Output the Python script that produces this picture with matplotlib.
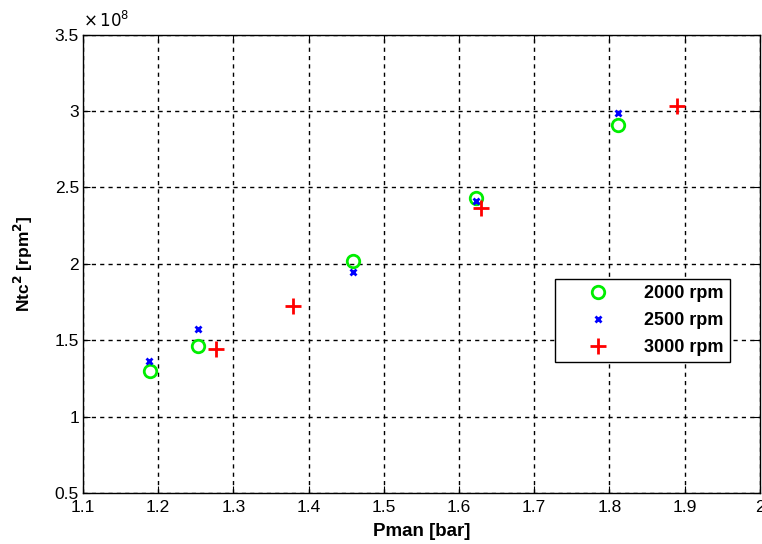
import matplotlib.pyplot as plt
import numpy as np

plt.rcParams['font.family'] = ['Liberation Sans', 'DejaVu Sans']

# boost pressure vs turbo speed squared, one series per engine speed
p_2000 = [1.189, 1.253, 1.459, 1.623, 1.811]
n2_2000 = [1.30, 1.463, 2.02, 2.432, 2.91]
p_2500 = [1.188, 1.253, 1.459, 1.623, 1.811]
n2_2500 = [1.364, 1.574, 1.947, 2.412, 2.989]
p_3000 = [1.277, 1.379, 1.629, 1.890]
n2_3000 = [1.443, 1.725, 2.366, 3.034]

xticks = [1.1, 1.2, 1.3, 1.4, 1.5, 1.6, 1.7, 1.8, 1.9, 2.0]
yticks = [0.5, 1.0, 1.5, 2.0, 2.5, 3.0, 3.5]
xtick_labels = ['1.1', '1.2', '1.3', '1.4', '1.5', '1.6', '1.7', '1.8', '1.9', '2']
ytick_labels = ['0.5', '1', '1.5', '2', '2.5', '3', '3.5']

fig = plt.figure(figsize=(7.62, 5.44), dpi=100)
ax = fig.add_axes([0.109, 0.094, 0.888, 0.842])

ax.plot(p_2000, n2_2000, 'o', ms=9, mfc='none', mec='#00ee00', mew=2, label='2000 rpm')
ax.plot(p_2500, n2_2500, 'x', ms=5, mec='#0000ff', mew=2, label='2500 rpm')
ax.plot(p_3000, n2_3000, '+', ms=11, mec='#ff0000', mew=2, label='3000 rpm')

ax.set_xlim(1.1, 2.0)
ax.set_ylim(0.5, 3.5)
ax.set_xticks(xticks)
ax.set_xticklabels(xtick_labels)
ax.set_yticks(yticks)
ax.set_yticklabels(ytick_labels)
ax.tick_params(direction='in', top=True, right=True, labelsize=12.5, length=5)
ax.tick_params(axis='x', pad=5)
ax.tick_params(axis='y', pad=3)
ax.grid(True, color='black', linestyle=(0, (3, 3)), linewidth=1)
for s in ax.spines.values():
    s.set_linewidth(1)

ax.text(0.0, 1.008, r'$\times\,10^{8}$', transform=ax.transAxes, fontsize=12,
        ha='left', va='bottom', fontfamily='DejaVu Sans')

ax.set_xlabel('Pman [bar]', fontsize=13.5, fontweight='bold', labelpad=6)
ax.set_ylabel(r'Ntc$^\mathbf{2}$ [rpm$^\mathbf{2}$]', fontsize=12.5, fontweight='bold', labelpad=14)

leg = ax.legend(loc='upper left', bbox_to_anchor=(0.697, 0.467), borderaxespad=0,
                fancybox=False, framealpha=1, edgecolor='black',
                prop={'weight': 'bold', 'size': 13},
                handlelength=4.1, handletextpad=0.5, borderpad=0.35, labelspacing=0.55)
leg.get_frame().set_linewidth(1)

fig.savefig('out.png', dpi=100)
